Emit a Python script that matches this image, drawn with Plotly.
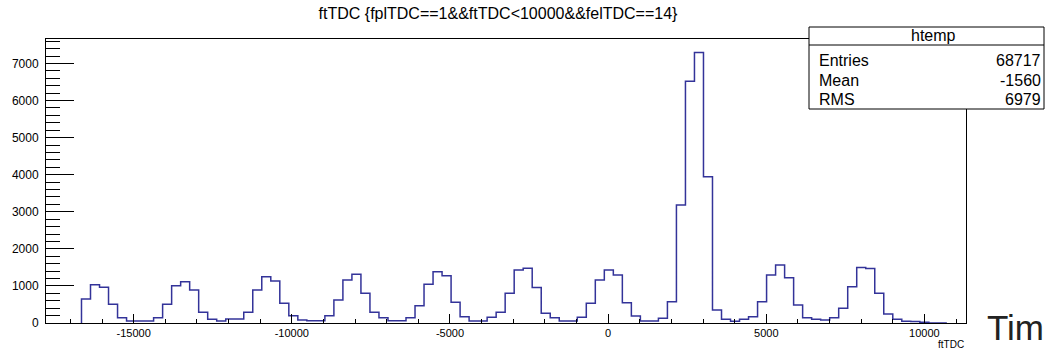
import plotly.graph_objects as go

# ---- data ----
bin_low_edge = -16650      # left edge of first filled bin (ftTDC units)
bin_width = 285            # ftTDC units per bin
counts = [
    647, 1033, 962, 503, 143, 54, 54, 54, 143, 503, 1006, 1114, 890, 288, 100, 54,
    108, 108, 288, 890, 1249, 1132, 530, 198, 81, 63, 63, 198, 620, 1159, 1312, 800, 288, 143, 63, 63,
    143, 467, 1042, 1384, 1276, 557, 171, 54, 54, 153, 288, 800, 1429, 1474, 960, 261, 143, 54, 54,
    153, 530, 1159, 1429, 1294, 548, 189, 54, 54, 130, 575,
    3180, 6523, 7296, 3943, 350, 100, 50, 100, 170, 575, 1294, 1563, 1222, 485, 143, 100, 80, 143,
    395, 980, 1500, 1470, 800, 243, 100, 50, 40, 20, 0, 0,
]
x_range = [-17772, 11315]
y_range = [0, 7660]
x_ticks = [-15000, -10000, -5000, 0, 5000, 10000]
y_ticks = [0, 1000, 2000, 3000, 4000, 5000, 6000, 7000]

title_text = "ftTDC {fplTDC==1&&ftTDC<10000&&felTDC==14}"
stats_name = "htemp"
stats_labels = ["Entries", "Mean", "RMS"]
stats_values = ["68717", "-1560", "6979"]
x_title = "ftTDC"
side_text = "Tim"

# ---- build step outline ----
edges = [bin_low_edge + i * bin_width for i in range(len(counts) + 1)]
xs = [edges[0]] + edges
ys = [0] + counts + [counts[-1]]

W, H = 1045, 350
L, R, T, B = 46, 966, 39, 323  # plot frame in pixels


def px(x):
    return (x - L) / (R - L)


def py(y):
    return (B - y) / (B - T)


fig = go.Figure()
fig.add_trace(go.Scatter(
    x=xs, y=ys, mode="lines", line=dict(color="#333399", width=1.5, shape="hv"),
    hoverinfo="skip", showlegend=False,
))

font_main = "Liberation Sans, Arial, sans-serif"

fig.update_layout(
    width=W, height=H,
    margin=dict(l=L, r=W - R, t=T, b=H - B, pad=0),
    paper_bgcolor="white", plot_bgcolor="white",
    title=dict(text=title_text, x=498 / W, xanchor="center", y=1 - 13 / H, yanchor="middle",
               font=dict(family=font_main, size=16, color="black")),
    showlegend=False,
)

fig.update_xaxes(
    range=x_range, tickmode="array", tickvals=x_ticks, ticktext=[str(v) for v in x_ticks],
    ticks="inside", ticklen=9, tickwidth=1, tickcolor="black",
    minor=dict(ticks="inside", ticklen=4.5, dtick=1000, tick0=0, tickcolor="black", showgrid=False),
    showline=True, linecolor="black", linewidth=1, mirror=True,
    showgrid=False, zeroline=False,
    tickfont=dict(family=font_main, size=11, color="black"),
)
fig.update_yaxes(
    range=y_range, tickmode="array", tickvals=y_ticks, ticktext=[str(v) for v in y_ticks],
    ticks="inside", ticklen=28, tickwidth=1, tickcolor="black",
    minor=dict(ticks="inside", ticklen=14, dtick=200, tick0=0, tickcolor="black", showgrid=False),
    showline=True, linecolor="black", linewidth=1, mirror=True,
    showgrid=False, zeroline=False, ticklabelstandoff=4,
    tickfont=dict(family=font_main, size=12, color="black"),
)

# ---- stats box ----
bx0, bx1, by0, by1, bsep = 809, 1044, 27, 109, 45
fig.add_shape(type="rect", xref="paper", yref="paper",
              x0=px(bx0), x1=px(bx1), y0=py(by1), y1=py(by0),
              line=dict(color="black", width=1), fillcolor="white", layer="above")
fig.add_shape(type="line", xref="paper", yref="paper",
              x0=px(bx0), x1=px(bx1), y0=py(bsep), y1=py(bsep),
              line=dict(color="black", width=1), layer="above")

ann = []
ann.append(dict(text=stats_name, x=px(933), y=py(36), xanchor="center", yanchor="middle"))
rows_y = [60, 80, 99]
for lab, val, yy in zip(stats_labels, stats_values, rows_y):
    ann.append(dict(text=lab, x=px(818), y=py(yy), xanchor="left", yanchor="middle"))
    ann.append(dict(text=val, x=px(1042), y=py(yy), xanchor="right", yanchor="middle"))
for a in ann:
    a.update(xref="paper", yref="paper", showarrow=False, borderpad=0,
             font=dict(family=font_main, size=16, color="black"))
    fig.add_annotation(**a)

fig.add_annotation(text=x_title, xref="paper", yref="paper", x=px(965), y=py(345),
                   xanchor="right", yanchor="middle", showarrow=False, borderpad=0,
                   font=dict(family=font_main, size=10, color="black"))
fig.add_annotation(text=side_text, xref="paper", yref="paper", x=px(986), y=py(327),
                   xanchor="left", yanchor="middle", showarrow=False, borderpad=0,
                   font=dict(family=font_main, size=35, color="#222222"))

fig.write_html(
    "out.html",
    config={"displayModeBar": False, "staticPlot": True},
    post_script="document.body.style.margin='0';document.body.style.padding='0';document.body.style.overflow='hidden';",
)
